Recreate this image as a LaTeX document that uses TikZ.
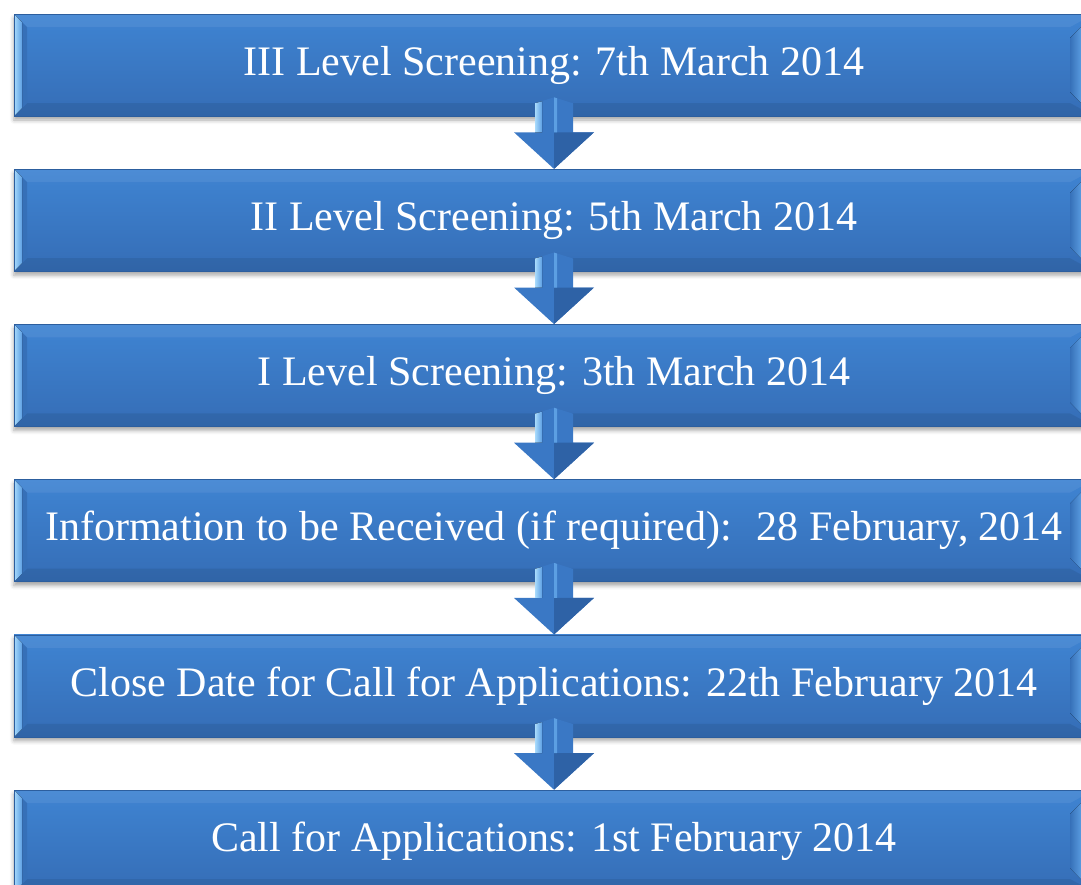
\documentclass[tikz,border=0pt]{standalone}
\usepackage{fontspec}
\setmainfont{Liberation Serif}
\usetikzlibrary{positioning, calc, shadows.blur}

\definecolor{facetop}{HTML}{3F84D2}
\definecolor{facebot}{HTML}{356DB6}
\definecolor{boxedge}{HTML}{2C5E9E}
\definecolor{bevlight}{HTML}{A8DAFC}
\definecolor{bevmid}{HTML}{5C9FE3}
\definecolor{bevdark}{HTML}{3670B8}
\definecolor{arrowface}{HTML}{3A78C5}
\definecolor{arrowdark}{HTML}{2E62A6}

\tikzset{
  stage/.style={rectangle, minimum width=1080pt, minimum height=102pt, inner sep=0pt,
    top color=facetop, bottom color=facebot, draw=boxedge, line width=0.6pt,
    text=white, font=\fontsize{42}{48}\selectfont,
    blur shadow={shadow xshift=0pt, shadow yshift=-4pt, shadow blur radius=4pt, shadow opacity=35},
    path picture={
      \coordinate (nw) at (path picture bounding box.north west);
      \coordinate (ne) at (path picture bounding box.north east);
      \coordinate (sw) at (path picture bounding box.south west);
      \coordinate (se) at (path picture bounding box.south east);
      % top and bottom faces
      \fill[white, opacity=0.07] (nw) -- (ne) -- ($(ne)+(-24,-13)$) -- ($(nw)+(13,-13)$) -- cycle;
      \fill[black, opacity=0.08] (sw) -- (se) -- ($(se)+(-24,13)$) -- ($(sw)+(13,13)$) -- cycle;
      % left face
      \fill[bevdark] (nw) -- ($(nw)+(13,-13)$) -- ($(sw)+(13,13)$) -- (sw) -- cycle;
      \fill[left color=bevlight, right color=bevmid] (nw) -- ($(nw)+(8,-8)$) -- ($(sw)+(8,8)$) -- (sw) -- cycle;
      % right face
      \fill[left color=bevdark, right color=bevlight, middle color=bevmid] (ne) -- ($(ne)+(-24,-24)$) -- ($(se)+(-24,24)$) -- (se) -- cycle;
    }},
}

% block arrow from one stage down to the next
\newcommand{\stagearrow}[2]{%
  \fill[arrowface] ($(#1.south)+(-19,13)$) -- ($(#1.south)+(0,19)$) -- ($(#1.south)+(19,13)$)
    -- ($(#1.south)+(19,-16)$) -- ($(#1.south)+(40,-16)$) -- (#2.north)
    -- ($(#1.south)+(-40,-16)$) -- ($(#1.south)+(-19,-16)$) -- cycle;
  \fill[arrowdark] ($(#1.south)+(0,-16)$) -- ($(#1.south)+(40,-16)$) -- (#2.north) -- cycle;
  \fill[left color=bevlight, right color=bevmid] ($(#1.south)+(-19,13)$) -- ($(#1.south)+(-12,15)$)
    -- ($(#1.south)+(-12,-16)$) -- ($(#1.south)+(-19,-16)$) -- cycle;
  \fill[bevmid] ($(#1.south)+(0,19)$) -- ($(#1.south)+(3,18)$) -- ($(#1.south)+(3,-16)$) -- ($(#1.south)+(0,-16)$) -- cycle;
}

\begin{document}
\begin{tikzpicture}[x=1pt, y=1pt, node distance=52.6pt]

\useasboundingbox (0,0) rectangle (1081,-884);
\clip (0,0) rectangle (1081,-884);

% Stages
\node[stage] (lvl3) at (554,-65) {III Level Screening: 7th March 2014};
\node[stage, below=of lvl3] (lvl2) {II Level Screening: 5th March 2014};
\node[stage, below=of lvl2] (lvl1) {I Level Screening: 3th March 2014};
\node[stage, below=of lvl1] (info) {Information to be Received (if required):~ 28 February, 2014};
\node[stage, below=of info] (close) {Close Date for Call for Applications: 22th February 2014};
\node[stage, below=of close] (call) {Call for Applications: 1st February 2014};

% Arrows
\stagearrow{lvl3}{lvl2}
\stagearrow{lvl2}{lvl1}
\stagearrow{lvl1}{info}
\stagearrow{info}{close}
\stagearrow{close}{call}

\end{tikzpicture}
\end{document}
